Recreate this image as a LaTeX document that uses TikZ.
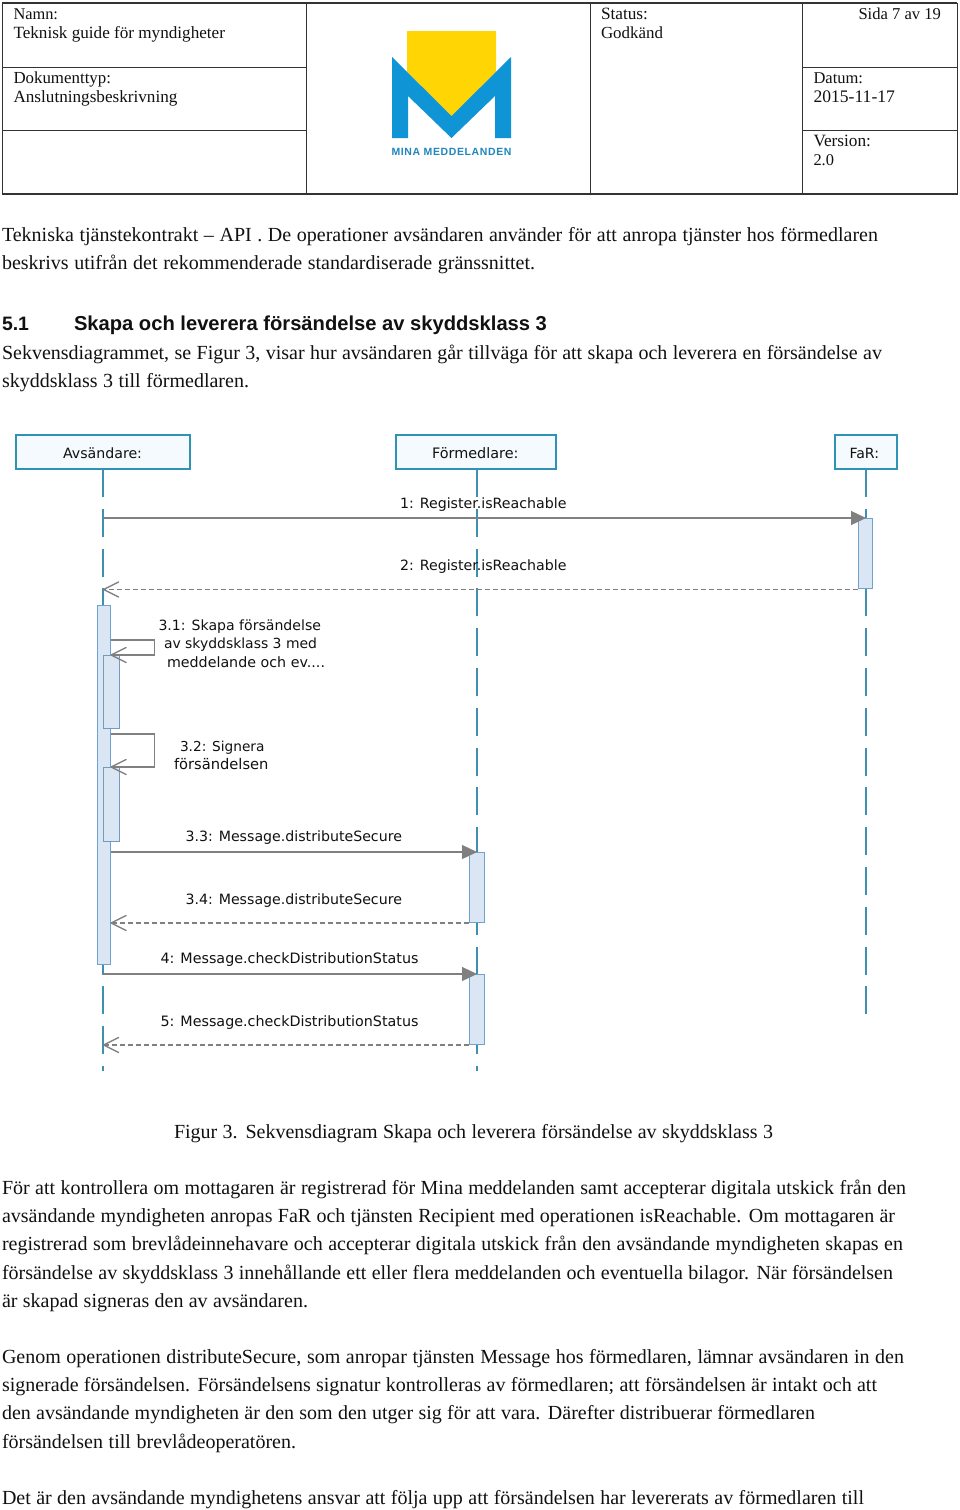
\documentclass[tikz,border=0pt]{standalone}
\usepackage{fontspec}
\usepackage{graphicx}
\usetikzlibrary{arrows.meta}
\setmainfont{Liberation Serif}
\newfontfamily\headf{Liberation Sans}
\newfontfamily\umlf{DejaVu Sans}
\definecolor{ink}{HTML}{111111}
\definecolor{lifec}{HTML}{3E8FB0}
\definecolor{headb}{HTML}{2E93B5}
\definecolor{headf}{HTML}{F4FAFD}
\definecolor{actf}{HTML}{DAE6F3}
\definecolor{actb}{HTML}{6FA3CF}
\definecolor{msgc}{HTML}{808080}
\definecolor{tabc}{HTML}{333333}
\definecolor{logob}{HTML}{0F94D6}
\definecolor{logoy}{HTML}{FFD503}
\definecolor{logot}{HTML}{1F86BE}
\tikzset{
  txt/.style={anchor=base west,inner sep=0pt,outer sep=0pt,text=ink},
  lifeline/.style={draw=lifec,line width=1.3pt,dash pattern=on 28pt off 11.8pt},
  headbox/.style={draw=headb,fill=headf,line width=1.3pt,inner sep=0pt,outer sep=0pt},
  actbox/.style={draw=actb,fill=actf,line width=1pt,inner sep=0pt,outer sep=0pt},
  msg/.style={draw=msgc,line width=1.3pt},
  ret/.style={draw=msgc,line width=1.1pt,dash pattern=on 5pt off 3pt},
  tipfill/.style={-{Triangle[length=15pt,width=14pt,fill=msgc]}},
  tipopen/.style={-{Straight Barb[length=15pt,width=15pt,line width=1.3pt,round=false]}},
  tabline/.style={draw=tabc,line width=0.9pt},
  tabouter/.style={draw=tabc,line width=1.5pt}
}
% body line: name, x, baseline, right end, text (spaces stretched to the width)
\newcommand{\txtline}[5]{\pgfmathsetmacro{\wdd}{#4-#2}\node[txt] (#1) at (#2,#3) {\fontsize{20}{24}\selectfont\makebox[\wdd pt][s]{#5}};}
% fitted label: name, x, baseline, right end, font commands, text
\newcommand{\fitlbl}[6]{\pgfmathsetmacro{\wdd}{#4-#2}\node[txt] (#1) at (#2,#3) {\resizebox{\wdd pt}{!}{#5#6}};}
\newcommand{\hdr}[5]{\fitlbl{#1}{#2}{#3}{#4}{\fontsize{16}{19}\selectfont}{#5}}
\newcommand{\uml}[5]{\fitlbl{#1}{#2}{#3}{#4}{\umlf\fontsize{14}{17}\selectfont}{#5}}
\begin{document}
\begin{tikzpicture}[x=1pt,y=-1pt]
\path[use as bounding box,fill=white] (0,0) rectangle (960,1510);
% header table
\draw[tabline] (2,3) rectangle (957,194);
\draw[tabouter] (2,3) -- (957,3) (2,194) -- (957,194);
\draw[tabline] (306.5,3) -- (306.5,194) (590.5,3) -- (590.5,194) (802.5,3) -- (802.5,194);
\draw[tabline] (2,67) -- (306.5,67) (2,130) -- (306.5,130) (802.5,67) -- (957,67) (802.5,130) -- (957,130);
\hdr{h1}{13.5}{19}{58}{Namn:}
\hdr{h2}{13.5}{38}{225}{Teknisk guide för myndigheter}
\hdr{h3}{13.5}{83}{111}{Dokumenttyp:}
\hdr{h4}{13.5}{102}{177.5}{Anslutningsbeskrivning}
\hdr{h5}{601}{19}{648}{Status:}
\hdr{h6}{601}{38}{663}{Godkänd}
\hdr{h7}{858.5}{19}{941}{Sida 7 av 19}
\hdr{h8}{813.5}{83}{863}{Datum:}
\hdr{h9}{813.5}{102}{895}{2015-11-17}
\hdr{h10}{813.5}{146}{871}{Version:}
\hdr{h11}{813.5}{165}{834}{2.0}
% logo
\fill[logoy] (407,31) -- (496,31) -- (496,72) -- (451.5,116) -- (407,72) -- cycle;
\fill[logob] (392,57) -- (451.5,116) -- (511,57) -- (511,138) -- (495,138) -- (495,96) -- (451.5,138) -- (408,96) -- (408,138) -- (392,138) -- cycle;
\fitlbl{logot}{391.5}{155.5}{511.5}{\color{logot}\headf\bfseries\fontsize{11}{13}\selectfont\addfontfeature{LetterSpace=6}}{MINA MEDDELANDEN}
% top text
\txtline{t1}{2}{241}{878}{Tekniska tjänstekontrakt – API . De operationer avsändaren använder för att anropa tjänster hos förmedlaren}
\txtline{t2}{2}{269}{535}{beskrivs utifrån det rekommenderade standardiserade gränssnittet.}
\node[txt] (s1) at (2,330) {\headf\bfseries\fontsize{20}{24}\selectfont\resizebox{27pt}{!}{5.1}};
\node[txt] (s2) at (74,330) {\headf\bfseries\resizebox{473pt}{!}{\fontsize{20}{24}\selectfont Skapa och leverera försändelse av skyddsklass 3}};
\txtline{t3}{2}{359}{882}{Sekvensdiagrammet, se Figur 3, visar hur avsändaren går tillväga för att skapa och leverera en försändelse av}
\txtline{t4}{2}{387}{249}{skyddsklass 3 till förmedlaren.}
% lifelines
\node[headbox,minimum width=174pt,minimum height=34pt] (ha) at (103,452) {};
\node[headbox,minimum width=160pt,minimum height=34pt] (hb) at (476,452) {};
\node[headbox,minimum width=62pt,minimum height=34pt] (hc) at (866,452) {};
\coordinate (ea) at (103,1071);
\coordinate (eb) at (477,1071);
\coordinate (ec) at (866,1015);
\draw[lifeline] (ha.south) -- (ea);
\draw[lifeline] (hb.south -| eb) -- (eb);
\draw[lifeline] (hc.south) -- (ec);
% activations
\node[actbox,minimum width=13.5pt,minimum height=359pt] (a0) at (103.75,784.5) {};
\node[actbox,minimum width=16pt,minimum height=73pt,draw=actb!80!gray] (a1) at (111,691.5) {};
\node[actbox,minimum width=16pt,minimum height=74pt,draw=actb!80!gray] (a2) at (111,804) {};
\node[actbox,minimum width=15pt,minimum height=70pt] (b1) at (476.5,887) {};
\node[actbox,minimum width=15pt,minimum height=70pt] (b2) at (476.5,1009) {};
\node[actbox,minimum width=14.5pt,minimum height=70pt] (fb) at (865.5,553) {};
% messages
\draw[msg,tipfill] (ea |- fb.north) -- (ec |- fb.north);
\draw[ret,tipopen] ([yshift=-1.5pt]fb.south west) -- ([yshift=-1.5pt]ea |- fb.south);
\coordinate (l31) at (a0.east |- 0,640);
\coordinate (r31) at (154.5,640);
\draw[msg,line width=1.1pt,tipopen] (l31) -- (r31) -- (r31 |- a1.north) -- (a0.east |- a1.north);
\coordinate (l32) at (a0.east |- 0,734);
\coordinate (r32) at (154.5,734);
\draw[msg,line width=1.1pt,tipopen] (l32) -- (r32) -- (r32 |- a2.north) -- (a0.east |- a2.north);
\draw[msg,tipfill] (a0.east |- b1.north) -- (eb |- b1.north);
\draw[ret,tipopen] ([yshift=-1pt]b1.south west) -- ([yshift=-1pt]a0.east |- b1.south);
\draw[msg,tipfill] (ea |- b2.north) -- (eb |- b2.north);
\draw[ret,tipopen] ([yshift=-1pt]b2.south west) -- ([yshift=-1pt]ea |- b2.south);
% labels
\uml{la}{63}{458}{142}{Avsändare:}
\uml{lb}{432}{458}{518.5}{Förmedlare:}
\uml{lc}{849.5}{458}{879}{FaR:}
\uml{m1}{400}{508.5}{566.5}{1: Register.isReachable}
\uml{m2}{400}{570.5}{566.5}{2: Register.isReachable}
\uml{m3a}{158.5}{630}{321}{3.1: Skapa försändelse}
\uml{m3b}{164}{648.5}{317}{av skyddsklass 3 med}
\uml{m3c}{167}{667}{325}{meddelande och ev....}
\uml{m4a}{180}{751}{264.5}{3.2: Signera}
\uml{m4b}{174}{769}{268.5}{försändelsen}
\uml{m5}{185.5}{841.5}{402}{3.3: Message.distributeSecure}
\uml{m6}{185.5}{904}{402}{3.4: Message.distributeSecure}
\uml{m7}{160.5}{963.5}{418.5}{4: Message.checkDistributionStatus}
\uml{m8}{160.5}{1026}{418.5}{5: Message.checkDistributionStatus}
% caption and lower text
\txtline{c1}{174}{1138}{773}{Figur 3. Sekvensdiagram Skapa och leverera försändelse av skyddsklass 3}
\txtline{t5}{2}{1194}{906}{För att kontrollera om mottagaren är registrerad för Mina meddelanden samt accepterar digitala utskick från den}
\txtline{t6}{2}{1222}{895}{avsändande myndigheten anropas FaR och tjänsten Recipient med operationen isReachable. Om mottagaren är}
\txtline{t7}{2}{1250}{903}{registrerad som brevlådeinnehavare och accepterar digitala utskick från den avsändande myndigheten skapas en}
\txtline{t8}{2}{1279}{893}{försändelse av skyddsklass 3 innehållande ett eller flera meddelanden och eventuella bilagor. När försändelsen}
\txtline{t9}{2}{1307}{308}{är skapad signeras den av avsändaren.}
\txtline{t10}{2}{1363}{904}{Genom operationen distributeSecure, som anropar tjänsten Message hos förmedlaren, lämnar avsändaren in den}
\txtline{t11}{2}{1391}{877}{signerade försändelsen. Försändelsens signatur kontrolleras av förmedlaren; att försändelsen är intakt och att}
\txtline{t12}{2}{1419}{815}{den avsändande myndigheten är den som den utger sig för att vara. Därefter distribuerar förmedlaren}
\txtline{t13}{2}{1448}{296}{försändelsen till brevlådeoperatören.}
\txtline{t14}{2}{1504}{864}{Det är den avsändande myndighetens ansvar att följa upp att försändelsen har levererats av förmedlaren till}
\end{tikzpicture}
\end{document}
